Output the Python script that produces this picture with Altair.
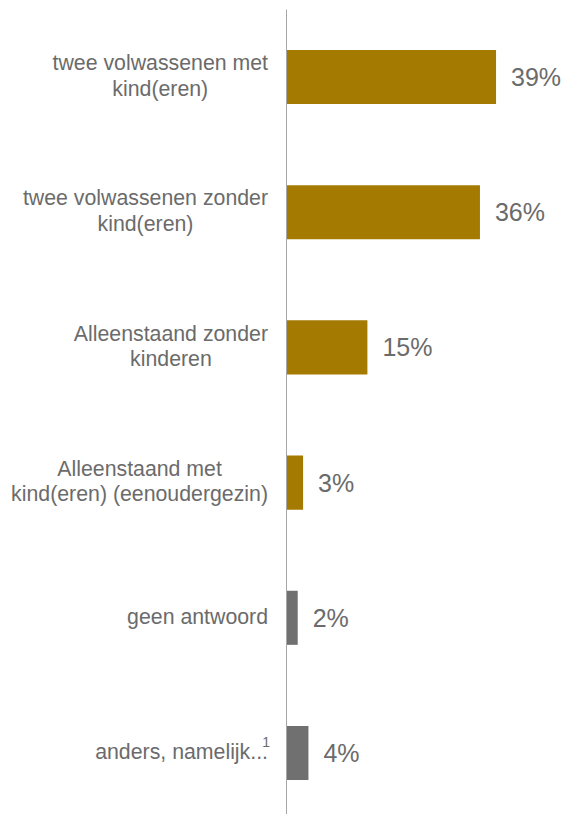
import altair as alt
import pandas as pd

# ---- data ----
categories = [
    "twee volwassenen met\nkind(eren)",
    "twee volwassenen zonder\nkind(eren)",
    "Alleenstaand zonder\nkinderen",
    "Alleenstaand met\nkind(eren) (eenoudergezin)",
    "geen antwoord",
    "anders, namelijk...",
]
values = [39, 36, 15, 3, 2, 4]
groups = ["a", "a", "a", "a", "b", "b"]
superscripts = ["", "", "", "", "", "1"]

# ---- style ----
GOLD = "#A57A00"
GREY_BAR = "#707070"
TEXT = "#6B6B6B"
AXIS = "#A6A6A6"
FONT = "Liberation Sans"
LABEL_SIZE = 21.3
LINE_H = 25.6
PCT_SIZE = 25
X_MAX = 50
W = 268
H = 812
LABEL_RIGHT_PX = -19  # right edge of category label blocks relative to axis

# Arial / Liberation Sans advance widths (per 1000 em)
AW = {
    "a": 556, "b": 556, "c": 500, "d": 556, "e": 556, "f": 278, "g": 556, "h": 556,
    "i": 222, "j": 222, "k": 500, "l": 222, "m": 833, "n": 556, "o": 556, "p": 556,
    "q": 556, "r": 333, "s": 500, "t": 278, "u": 556, "v": 500, "w": 722, "x": 500,
    "y": 500, "z": 500, "A": 667, " ": 278, "(": 333, ")": 333, ",": 278, ".": 278,
}


def text_width(s, size):
    return max(sum(AW.get(ch, 556) for ch in line) for line in s.split("\n")) / 1000 * size


px_per_unit = W / X_MAX
label_x = [(LABEL_RIGHT_PX - text_width(c, LABEL_SIZE) / 2) / px_per_unit for c in categories]
sup_x = LABEL_RIGHT_PX / px_per_unit

df = pd.DataFrame({
    "cat": categories,
    "value": values,
    "group": groups,
    "sup": superscripts,
    "lx": label_x,
    "sx": [sup_x] * len(categories),
    "nlines": [c.count("\n") + 1 for c in categories],
})

y_enc = alt.Y(
    "cat:N",
    sort=categories,
    scale=alt.Scale(paddingInner=0.6, paddingOuter=0.303),
    axis=alt.Axis(
        title=None, labels=False, ticks=False, domain=True,
        domainColor=AXIS, domainWidth=1, offset=1,
    ),
)
y_plain = alt.Y("cat:N", sort=categories)
x_scale = alt.Scale(domain=[0, X_MAX], nice=False, zero=True)

base = alt.Chart(df)

bars = base.mark_bar(clip=False).encode(
    x=alt.X("value:Q", scale=x_scale, axis=None),
    y=y_enc,
    color=alt.Color(
        "group:N",
        scale=alt.Scale(domain=["a", "b"], range=[GOLD, GREY_BAR]),
        legend=None,
    ),
)

pct = base.transform_calculate(
    label="datum.value + '%'"
).mark_text(
    align="left", baseline="middle", dx=15, dy=1, font=FONT, fontSize=PCT_SIZE, color=TEXT
).encode(
    x=alt.X("value:Q", scale=x_scale, axis=None),
    y=y_plain,
    text="label:N",
)


def cat_layer(n_lines):
    return base.transform_filter(f"datum.nlines == {n_lines}").mark_text(
        align="center", baseline="middle", font=FONT, fontSize=LABEL_SIZE,
        color=TEXT, lineBreak="\n", lineHeight=LINE_H, clip=False,
        dy=-(n_lines - 1) * LINE_H / 2,
    ).encode(
        x=alt.X("lx:Q", scale=x_scale, axis=None),
        y=y_plain,
        text="cat:N",
    )


sup = base.transform_filter("datum.sup != ''").mark_text(
    align="right", baseline="alphabetic", dx=2, dy=-6, font=FONT, fontSize=14, color=TEXT,
).encode(
    x=alt.X("sx:Q", scale=x_scale, axis=None),
    y=y_plain,
    text="sup:N",
)

chart = alt.layer(bars, pct, cat_layer(1), cat_layer(2), sup).properties(
    width=W,
    height=H,
    autosize=alt.AutoSizeParams(type="none"),
    padding={"left": 279, "top": 1, "right": 7, "bottom": 0},
    background="white",
).configure_view(stroke=None)

chart.save("out.html", embed_options={"renderer": "svg", "actions": False})
